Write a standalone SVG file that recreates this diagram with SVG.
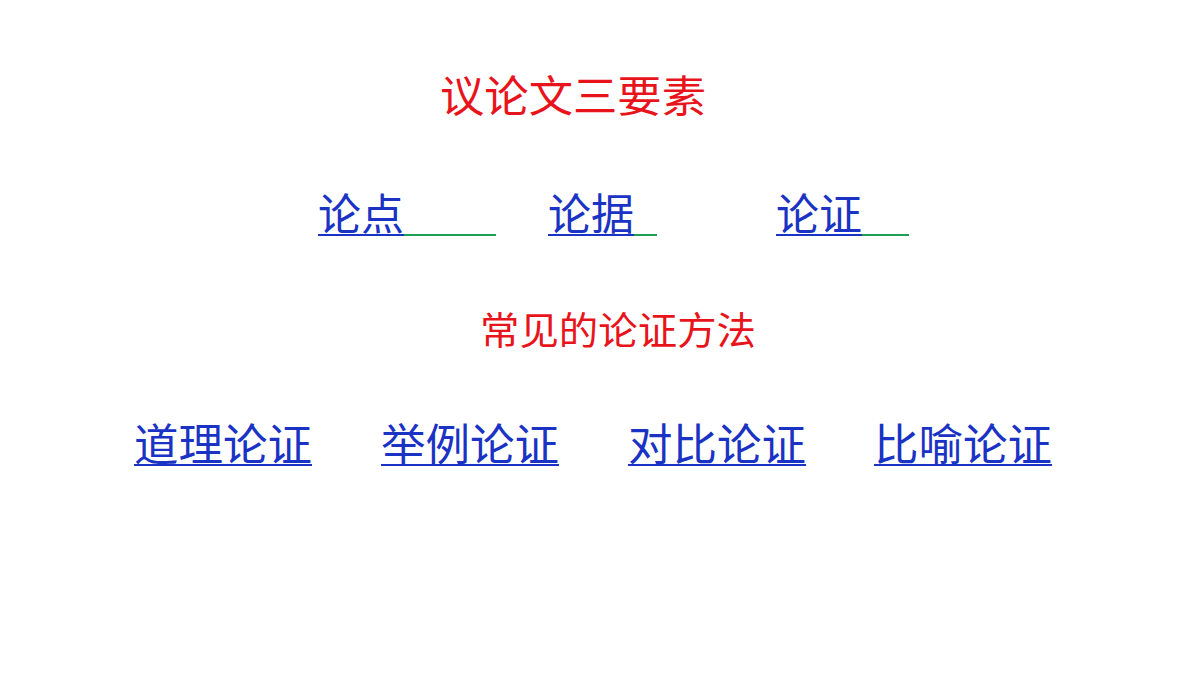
<svg xmlns="http://www.w3.org/2000/svg" width="1200" height="675" viewBox="0 0 1200 675">
<style>
text{font-family:"Noto Sans CJK SC","Noto Sans CJK JP",sans-serif}
.r{fill:#e8141b}
.b{fill:#1a33c4}
.ub{stroke:#1a33c4;stroke-width:2}
.ug{stroke:#1aa050;stroke-width:2}
</style>
<rect width="1200" height="675" fill="#fff"/>
<g id="title"><text class="r" x="440" y="112" font-size="43" textLength="266" lengthAdjust="spacingAndGlyphs">议论文三要素</text></g>
<g id="n1"><text class="b" x="318" y="230" font-size="43" textLength="86" lengthAdjust="spacingAndGlyphs">论点</text><line class="ub" x1="318" y1="235" x2="404" y2="235"/><line class="ug" x1="404" y1="235" x2="496" y2="235"/></g>
<g id="n2"><text class="b" x="548" y="230" font-size="43" textLength="86" lengthAdjust="spacingAndGlyphs">论据</text><line class="ub" x1="548" y1="235" x2="634" y2="235"/><line class="ug" x1="634" y1="235" x2="657" y2="235"/></g>
<g id="n3"><text class="b" x="776" y="230" font-size="43" textLength="86" lengthAdjust="spacingAndGlyphs">论证</text><line class="ub" x1="776" y1="235" x2="862" y2="235"/><line class="ug" x1="862" y1="235" x2="909" y2="235"/></g>
<g id="sub"><text class="r" x="480" y="344" font-size="38" textLength="276" lengthAdjust="spacingAndGlyphs">常见的论证方法</text></g>
<g id="m1"><text class="b" x="134" y="461" font-size="44" textLength="178" lengthAdjust="spacingAndGlyphs">道理论证</text><line class="ub" x1="134" y1="465" x2="312" y2="465"/></g>
<g id="m2"><text class="b" x="381" y="461" font-size="44" textLength="178" lengthAdjust="spacingAndGlyphs">举例论证</text><line class="ub" x1="381" y1="465" x2="559" y2="465"/></g>
<g id="m3"><text class="b" x="628" y="461" font-size="44" textLength="178" lengthAdjust="spacingAndGlyphs">对比论证</text><line class="ub" x1="628" y1="465" x2="806" y2="465"/></g>
<g id="m4"><text class="b" x="874" y="461" font-size="44" textLength="178" lengthAdjust="spacingAndGlyphs">比喻论证</text><line class="ub" x1="874" y1="465" x2="1052" y2="465"/></g>
<g id="connectors"></g>
</svg>
